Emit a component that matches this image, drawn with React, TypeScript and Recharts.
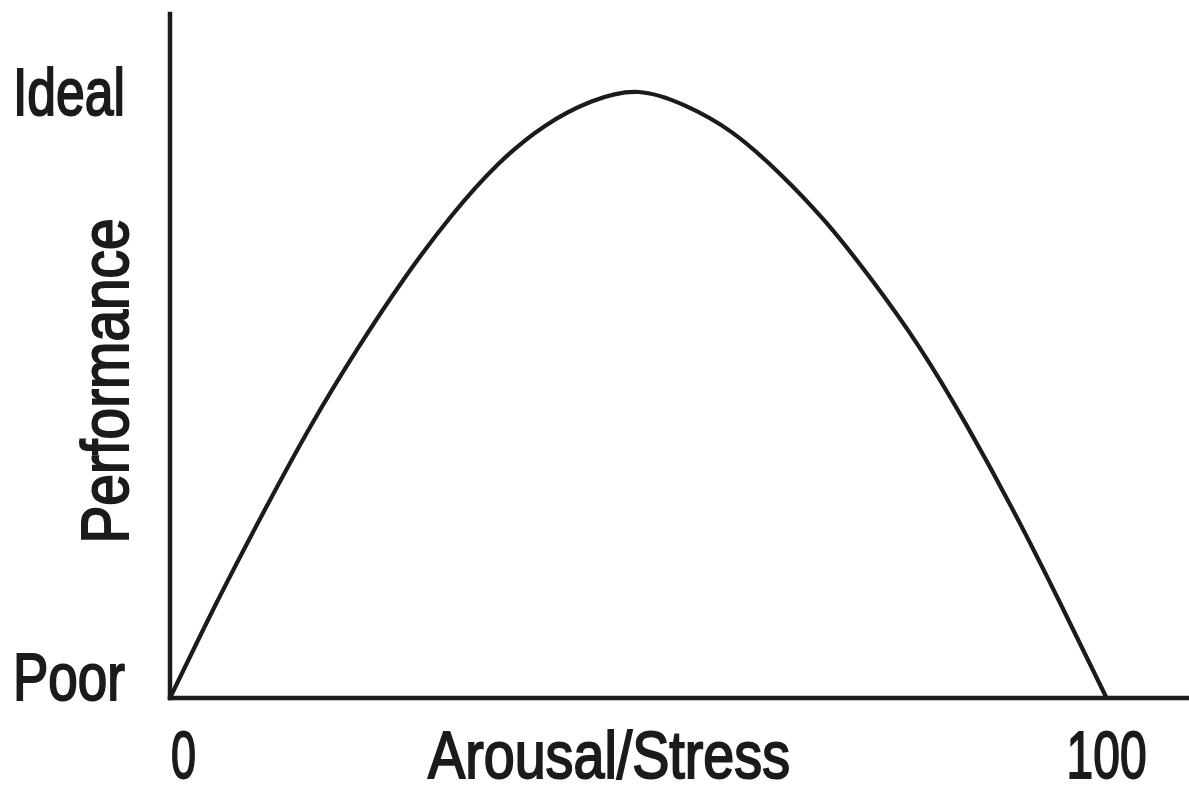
import React from "react";
import { LineChart, Line, XAxis, YAxis, Label } from "recharts";

// arousal/stress (0-100) vs performance (0 = poor, ~88.6 = ideal)
const arousal = [0, 5, 10, 15, 20, 25, 30, 35, 40, 45, 50, 55, 60, 65, 70, 75, 80, 85, 90, 95, 100];
const performance = [0, 14.0, 27.2, 39.7, 51.0, 61.3, 70.4, 78.0, 83.6, 87.2, 88.6, 86.6, 82.7, 76.8, 69.6, 61.0, 51.3, 40.0, 27.5, 14.0, 0];

const xTicks = [0, 100];
const yTicks = [0, 88.6];
const yTickLabels = ["Poor", "Ideal"];

const data = arousal.map((x, i) => ({ x, y: performance[i] }));

const FONT = "'Liberation Sans', Arial, sans-serif";
const INK = "#1c1a1a";
const textStyle = { fontFamily: FONT, fontSize: 67, fill: INK, stroke: INK, strokeWidth: 2 } as const;

// the reference uses a condensed face, so squeeze each label to its width
const XTick = (props: any) => {
  const { x, y, payload } = props;
  const isZero = payload.value === 0;
  return (
    <text
      x={isZero ? x + 1 : x}
      y={y}
      textAnchor={isZero ? "start" : "middle"}
      textLength={isZero ? 25 : 80}
      lengthAdjust="spacingAndGlyphs"
      {...textStyle}
    >
      {payload.value}
    </text>
  );
};

const YTick = (props: any) => {
  const { x, y, payload, index } = props;
  const dy = payload.value === 0 ? 2 : 23;
  return (
    <text x={x} y={y + dy} textAnchor="end" textLength={112} lengthAdjust="spacingAndGlyphs" {...textStyle}>
      {yTickLabels[index]}
    </text>
  );
};

const PerfLabel = (props: any) => {
  const { viewBox } = props;
  const cx = viewBox.x + 128;
  const cy = viewBox.y + viewBox.height / 2 + 25;
  return (
    <text
      x={cx}
      y={cy}
      transform={`rotate(-90 ${cx} ${cy})`}
      textAnchor="middle"
      textLength={325}
      lengthAdjust="spacingAndGlyphs"
      {...textStyle}
    >
      Performance
    </text>
  );
};

const StressLabel = (props: any) => {
  const { viewBox } = props;
  return (
    <text x={609} y={viewBox.y + 80} textAnchor="middle" textLength={362} lengthAdjust="spacingAndGlyphs" {...textStyle}>
      Arousal/Stress
    </text>
  );
};

export default function App() {
  return (
    <div style={{ position: "absolute", left: 0, top: 0, width: 1189, height: 785, background: "#fff" }}>
      <LineChart width={1189} height={785} data={data} margin={{ top: 14, right: 0, left: 0, bottom: 0 }}>
        <XAxis
          dataKey="x"
          type="number"
          domain={[0, 108.8]}
          ticks={xTicks}
          tick={<XTick />}
          tickLine={false}
          tickSize={0}
          tickMargin={80}
          height={87}
          axisLine={{ stroke: INK, strokeWidth: 4.5, strokeLinecap: "square" }}
        >
          <Label content={<StressLabel />} />
        </XAxis>
        <YAxis
          type="number"
          domain={[0, 100]}
          ticks={yTicks}
          tick={<YTick />}
          tickLine={false}
          tickSize={0}
          tickMargin={45}
          width={170}
          axisLine={{ stroke: INK, strokeWidth: 4.5, strokeLinecap: "square" }}
        >
          <Label content={<PerfLabel />} />
        </YAxis>
        <Line
          dataKey="y"
          type="natural"
          stroke={INK}
          strokeWidth={4.2}
          dot={false}
          activeDot={false}
          isAnimationActive={false}
        />
      </LineChart>
    </div>
  );
}
